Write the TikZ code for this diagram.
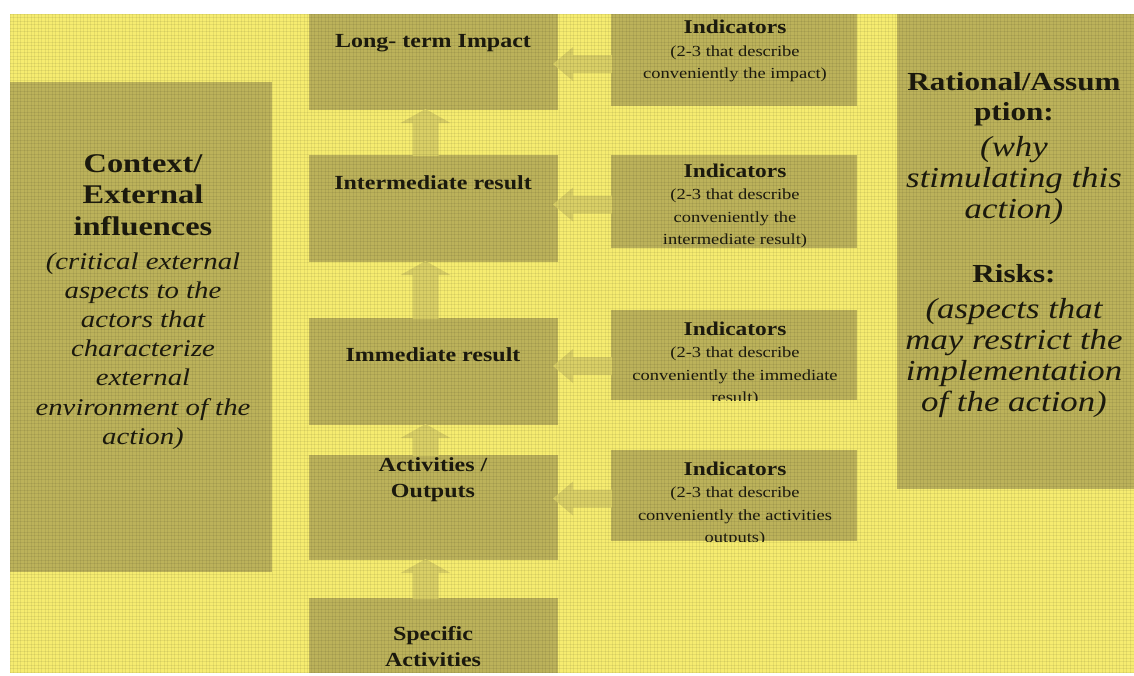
\documentclass[tikz,border=0pt]{standalone}
\usepackage{fontspec}
\setmainfont{Liberation Serif}[FakeStretch=1.2]
\usetikzlibrary{calc}

\definecolor{canvas}{HTML}{F6EC70}
\definecolor{panelol}{HTML}{BCB25A}
\definecolor{arrowol}{HTML}{D9CF66}
\definecolor{ink}{HTML}{1C1A0E}

\newcommand{\fs}[2]{\fontsize{#1}{#2}\selectfont}
\newcommand{\indhead}[1]{{\bfseries\fs{19.5}{22.5}#1}}

\tikzset{
  panel/.style={fill=panelol, draw=none, inner sep=0pt, outer sep=0pt, anchor=north west},
  blockarrow/.style={fill=arrowol, draw=none},
  stagetext/.style={text=ink, align=center, inner sep=0pt, font=\bfseries\fs{20}{26}},
  indtext/.style={text=ink, align=center, inner sep=0pt, font=\fs{15.4}{22.5}},
  ctxhead/.style={text=ink, align=center, inner sep=0pt, font=\bfseries\fs{27}{31.5}},
  ctxbody/.style={text=ink, align=center, inner sep=0pt, font=\itshape\fs{24}{29.2}},
  rathead/.style={text=ink, align=center, inner sep=0pt, font=\bfseries\fs{26}{30}},
  ratbody/.style={text=ink, align=center, inner sep=0pt, font=\itshape\fs{29}{31}},
  weave/.style={draw=black, draw opacity=0.065, line width=0.7pt},
}

\begin{document}
\begin{tikzpicture}[x=1pt, y=-1pt]
  \useasboundingbox (0,0) rectangle (1134,675);
  \fill[white] (0,0) rectangle (1134,675);
  \fill[canvas] (10,14) rectangle (1134,673);

  % panels (placed by their top-left corners)
  \node[panel, minimum width=262, minimum height=490] (ctx) at (10,82) {};
  \node[panel, minimum width=249, minimum height=96]  (lt)  at (309,14) {};
  \node[panel, minimum width=249, minimum height=107] (ir)  at (309,155) {};
  \node[panel, minimum width=249, minimum height=107] (im)  at (309,318) {};
  \node[panel, minimum width=249, minimum height=105] (ao)  at (309,455) {};
  \node[panel, minimum width=249, minimum height=75]  (sa)  at (309,598) {};
  \node[panel, minimum width=246, minimum height=92]  (in1) at (611,14) {};
  \node[panel, minimum width=246, minimum height=93]  (in2) at (611,155) {};
  \node[panel, minimum width=246, minimum height=90]  (in3) at (611,310) {};
  \node[panel, minimum width=246, minimum height=91]  (in4) at (611,450) {};
  \node[panel, minimum width=237, minimum height=475] (rat) at (897,14) {};

  % upward block arrows between the stages
  \foreach \lo/\up in {ir/lt, im/ir, ao/im, sa/ao}{
    \fill[blockarrow]
      ($(\up.south)+(-8,-1)$) -- ($(\up.south)+(17,13)$) -- ($(\up.south)+(5,13)$)
      -- ($(\lo.north)+(5,1)$) -- ($(\lo.north)+(-21,1)$)
      -- ($(\up.south)+(-21,13)$) -- ($(\up.south)+(-33,13)$) -- cycle;
  }

  % leftward block arrows from the indicator panels
  \coordinate (a1) at ($(in1.west)+(0,4)$);
  \coordinate (a2) at ($(in2.west)+(0,3)$);
  \coordinate (a3) at ($(in3.west)+(0,11)$);
  \coordinate (a4) at ($(in4.west)+(0,3)$);
  \foreach \src/\dst in {a1/lt, a2/ir, a3/im, a4/ao}{
    \fill[blockarrow]
      ($(\dst.east |- \src)+(-5,0)$) -- ($(\dst.east |- \src)+(15,-17)$)
      -- ($(\dst.east |- \src)+(15,-9)$) -- ($(\src)+(1,-9)$)
      -- ($(\src)+(1,9)$) -- ($(\dst.east |- \src)+(15,9)$)
      -- ($(\dst.east |- \src)+(15,17)$) -- cycle;
  }

  % stage labels
  \node[stagetext] (tlt) at (433,43)  {Long- term Impact};
  \node[stagetext] (tir) at (433,183) {Intermediate result};
  \node[stagetext] (tim) at (433,355) {Immediate result};
  \node[stagetext] (tao) at (433,480) {Activities /\\Outputs};
  \node[stagetext] (tsa) at (433,647) {Specific\\Activities};

  % indicator labels (the last lines run past the panel edge and are cut)
  \node[indtext] (tin1) at (735,51)
    {\indhead{Indicators}\\(2-3 that describe\\conveniently the impact)};
  \node[indtext] (tin2) at (735,206)
    {\indhead{Indicators}\\(2-3 that describe\\conveniently the\\intermediate result)};
  \begin{scope}
    \clip (in3.north west) rectangle (in3.south east);
    \node[indtext] (tin3) at (735,364)
      {\indhead{Indicators}\\(2-3 that describe\\conveniently the immediate\\result)};
  \end{scope}
  \begin{scope}
    \clip (in4.north west) rectangle (in4.south east);
    \node[indtext] (tin4) at (735,504)
      {\indhead{Indicators}\\(2-3 that describe\\conveniently the activities\\outputs)};
  \end{scope}

  % context panel
  \node[ctxhead] (cxh) at (143,195) {Context/\\External\\influences};
  \node[ctxbody] (cxb) at (143,351) {(critical external\\aspects to the\\actors that\\characterize\\external\\environment of the\\action)};

  % rationale / risks panel
  \node[rathead] (rh1) at (1014,99) {Rational/Assum\\ption:};
  \node[ratbody] (rb1) at (1014,181) {(why\\stimulating this\\action)};
  \node[rathead] (rh2) at (1014,274) {Risks:};
  \node[ratbody] (rb2) at (1014,358) {(aspects that\\may restrict the\\implementation\\of the action)};

  % canvas weave over the whole sheet
  \foreach \k in {0,...,320}{
    \draw[weave] ({10+3.5*\k},14) -- ({10+3.5*\k},673);
  }
  \foreach \k in {0,...,188}{
    \draw[weave] (10,{14+3.5*\k}) -- (1134,{14+3.5*\k});
  }
\end{tikzpicture}
\end{document}
